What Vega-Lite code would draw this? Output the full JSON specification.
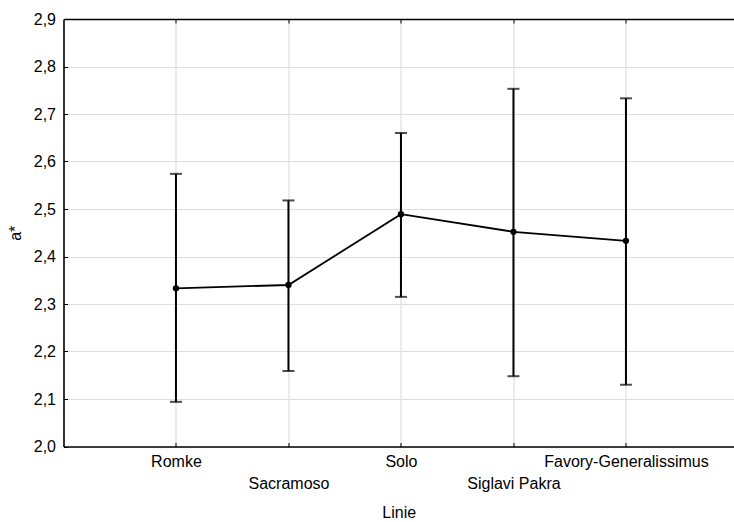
{
  "$schema": "https://vega.github.io/schema/vega-lite/v6.json",
  "autosize": {"type": "none"},
  "padding": {"left": 63.5, "top": 19, "right": 0, "bottom": 75.5},
  "width": 670.5,
  "height": 427.5,
  "background": "white",
  "config": {
    "view": {"stroke": null},
    "font": "Liberation Sans",
    "axis": {
      "labelFont": "Liberation Sans",
      "titleFont": "Liberation Sans",
      "labelFontSize": 16,
      "titleFontSize": 16,
      "titleFontWeight": "normal",
      "labelColor": "black",
      "titleColor": "black",
      "domainColor": "black",
      "domainWidth": 1.6,
      "tickColor": "black",
      "tickWidth": 1,
      "gridColor": "#dedede",
      "gridWidth": 1.2
    }
  },
  "data": {
    "values": [
      {"Linie": "Romke", "mean": 2.333, "lower": 2.094, "upper": 2.574},
      {"Linie": "Sacramoso", "mean": 2.340, "lower": 2.159, "upper": 2.518},
      {"Linie": "Solo", "mean": 2.489, "lower": 2.315, "upper": 2.660},
      {"Linie": "Siglavi Pakra", "mean": 2.452, "lower": 2.148, "upper": 2.753},
      {"Linie": "Favory-Generalissimus", "mean": 2.433, "lower": 2.130, "upper": 2.733}
    ]
  },
  "layer": [
    {
      "mark": {"type": "rule", "color": "black", "strokeWidth": 2},
      "encoding": {
        "x": {
          "field": "Linie", "type": "nominal", "sort": null,
          "scale": {"type": "point", "padding": 0.98, "align": 0.51},
          "axis": {
            "orient": "bottom",
            "title": "Linie",
            "titlePadding": 13,
            "labelAngle": 0,
            "grid": true,
            "tickSize": -4,
            "labelBaseline": "top",
            "labelPadding": {"condition": {"test": "datum.index == 0.25 || datum.index == 0.75", "value": 33}, "value": 11},
            "labelFlush": false,
            "labelOverlap": false
          }
        },
        "y": {
          "field": "lower", "type": "quantitative",
          "scale": {"domain": [2.0, 2.9], "zero": false, "nice": false},
          "axis": {
            "title": "a*",
            "titlePadding": 10,
            "values": [2.0, 2.1, 2.2, 2.3, 2.4, 2.5, 2.6, 2.7, 2.8, 2.9],
            "labelExpr": "replace(format(datum.value, '.1f'), '.', ',')",
            "tickSize": -4,
            "labelPadding": 12,
            "grid": true
          }
        },
        "y2": {"field": "upper"}
      }
    },
    {
      "mark": {"type": "tick", "color": "black", "thickness": 2, "size": 12},
      "encoding": {
        "x": {"field": "Linie", "type": "nominal", "sort": null,
          "axis": {"orient": "top", "labels": false, "title": null, "grid": false, "tickSize": -4}},
        "y": {"field": "lower", "type": "quantitative"}
      }
    },
    {
      "mark": {"type": "tick", "color": "black", "thickness": 2, "size": 12},
      "encoding": {
        "x": {"field": "Linie", "type": "nominal", "sort": null, "axis": null},
        "y": {"field": "upper", "type": "quantitative"}
      }
    },
    {
      "mark": {"type": "line", "color": "black", "strokeWidth": 1.8},
      "encoding": {
        "x": {"field": "Linie", "type": "nominal", "sort": null, "axis": null},
        "y": {"field": "mean", "type": "quantitative"}
      }
    },
    {
      "mark": {"type": "point", "filled": true, "color": "black", "opacity": 1, "size": 40},
      "encoding": {
        "x": {"field": "Linie", "type": "nominal", "sort": null, "axis": null},
        "y": {"field": "mean", "type": "quantitative"}
      }
    }
  ]
}
